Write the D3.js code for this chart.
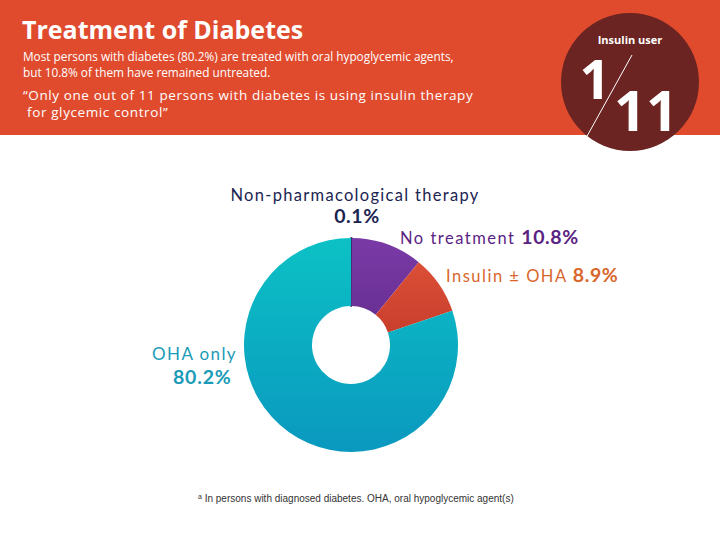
<!DOCTYPE html>
<html>
<head>
<meta charset="utf-8">
<script src="https://cdn.jsdelivr.net/npm/d3@7"></script>
<style>
  body { margin: 0; background: #fff; }
  svg { display: block; }
</style>
</head>
<body>
<svg id="svg" width="720" height="540"></svg>
<script>
// treatment categories, clockwise from 12 o'clock
var categories = ["Non-pharmacological therapy", "No treatment", "Insulin \u00b1 OHA", "OHA only"];
var values = [0.1, 10.8, 8.9, 80.2];
var valueLabels = ["0.1%", "10.8%", "8.9%", "80.2%"];

var svg = d3.select("#svg");
var W = 720, H = 540;

//----- header band
svg.append("rect").attr("x", 0).attr("y", 0).attr("width", W).attr("height", 135)
  .attr("fill", "#E04B2E");

var head = svg.append("g").attr("font-family", "'Open Sans', 'Noto Sans', sans-serif").attr("fill", "#fff");
head.append("text").attr("x", 22).attr("y", 39).attr("font-size", 25).attr("font-weight", "bold")
  .text("Treatment of Diabetes");
head.append("text").attr("x", 23).attr("y", 61).attr("font-size", 11.8)
  .text("Most persons with diabetes (80.2%) are treated with oral hypoglycemic agents,");
head.append("text").attr("x", 23).attr("y", 77).attr("font-size", 11.8)
  .text("but 10.8% of them have remained untreated.");
head.append("text").attr("x", 23).attr("y", 100).attr("font-size", 13.5).style("letter-spacing", "0.6px")
  .text("\u201cOnly one out of 11 persons with diabetes is using insulin therapy");
head.append("text").attr("x", 23).attr("y", 117).attr("font-size", 13.5).style("letter-spacing", "0.6px")
  .text("\u00a0for glycemic control\u201d");

//----- insulin user circle
var badge = svg.append("g").attr("font-family", "'Open Sans', 'Noto Sans', sans-serif").attr("fill", "#fff");
badge.append("circle").attr("cx", 630).attr("cy", 82).attr("r", 69).attr("fill", "#6B2422");
badge.append("text").attr("x", 630).attr("y", 44).attr("text-anchor", "middle")
  .attr("font-size", 11).attr("font-weight", "bold").text("Insulin user");
badge.append("line").attr("x1", 632).attr("y1", 55).attr("x2", 586).attr("y2", 138)
  .attr("stroke", "#fff").attr("stroke-width", 1);
badge.append("text").attr("x", 595).attr("y", 99).attr("text-anchor", "middle")
  .attr("font-size", 54).attr("font-weight", "bold").text("1");
badge.append("text").attr("x", 646).attr("y", 131).attr("text-anchor", "middle")
  .attr("font-size", 56).attr("font-weight", "bold").text("11");

//----- gradients
var defs = svg.append("defs");
var grads = [
  ["g0", "#1B2452", "#1B2452"],
  ["g1", "#7A3AA6", "#4C1F78"],
  ["g2", "#E2543A", "#A8241C"],
  ["g3", "#0CC1C5", "#0A98BF"]
];
grads.forEach(function(g) {
  var lg = defs.append("linearGradient").attr("id", g[0])
    .attr("gradientUnits", "userSpaceOnUse")
    .attr("x1", 0).attr("y1", -107).attr("x2", 0).attr("y2", 107);
  lg.append("stop").attr("offset", "0%").attr("stop-color", g[1]);
  lg.append("stop").attr("offset", "100%").attr("stop-color", g[2]);
});

//----- donut
var cx = 351, cy = 345;
var pie = d3.pie().sort(null).value(function(d) { return d; });
var arc = d3.arc().innerRadius(39).outerRadius(107);
var donut = svg.append("g").attr("transform", "translate(" + cx + "," + cy + ")");
donut.selectAll("path").data(pie(values)).enter().append("path")
  .attr("d", arc)
  .attr("fill", function(d, i) { return "url(#g" + i + ")"; })
  .attr("stroke", function(d, i) { return i === 0 ? "#1B2452" : "none"; })
  .attr("stroke-width", function(d, i) { return i === 0 ? 1.5 : 0; });

//----- labels
var lab = svg.append("g").attr("font-family", "Lato, 'Noto Sans', sans-serif");
lab.append("text").attr("x", 355).attr("y", 201).attr("text-anchor", "middle")
  .attr("font-size", 16.5).attr("fill", "#1B2452").style("letter-spacing", "1.3px")
  .text(categories[0]);
lab.append("text").attr("x", 357).attr("y", 223).attr("text-anchor", "middle")
  .attr("font-size", 19.5).attr("font-weight", "bold").attr("fill", "#1B2452").style("letter-spacing", "0.6px")
  .text(valueLabels[0]);

var t1 = lab.append("text").attr("x", 400).attr("y", 244).attr("fill", "#5A2383")
  .attr("font-size", 16.5).style("letter-spacing", "1.5px");
t1.append("tspan").text(categories[1] + " ");
t1.append("tspan").attr("font-weight", "bold").attr("font-size", 19.5).style("letter-spacing", "0.6px").text(valueLabels[1]);

var t2 = lab.append("text").attr("x", 446).attr("y", 282).attr("fill", "#D9662C")
  .attr("font-size", 16.5).style("letter-spacing", "1.5px");
t2.append("tspan").text(categories[2] + " ");
t2.append("tspan").attr("font-weight", "bold").attr("font-size", 19.5).style("letter-spacing", "0.6px").text(valueLabels[2]);

lab.append("text").attr("x", 152).attr("y", 360).attr("font-size", 17)
  .attr("fill", "#1A9BB8").style("letter-spacing", "1.4px").text(categories[3]);
lab.append("text").attr("x", 173).attr("y", 384).attr("font-size", 19.5).attr("font-weight", "bold")
  .attr("fill", "#1A9BB8").style("letter-spacing", "0.8px").text(valueLabels[3]);

//----- footnote
var fn = svg.append("text").attr("x", 198).attr("y", 502)
  .attr("font-family", "'Liberation Sans', Arial, sans-serif").attr("font-size", 10).attr("fill", "#333");
fn.append("tspan").attr("font-size", 7).attr("dy", -3).text("a");
fn.append("tspan").attr("dy", 3).text(" In persons with diagnosed diabetes. OHA, oral hypoglycemic agent(s)");
</script>
</body>
</html>
